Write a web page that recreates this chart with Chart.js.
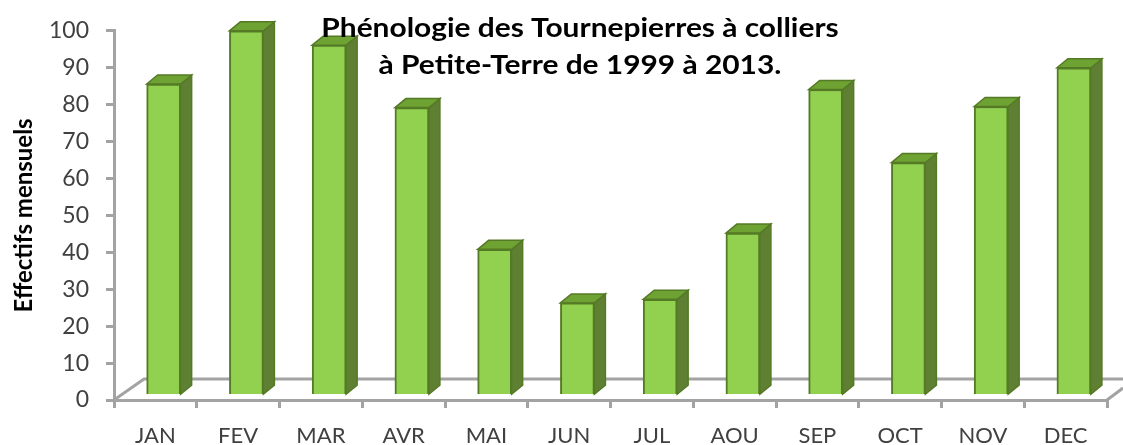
<!DOCTYPE html>
<html lang="fr">
<head>
    <meta charset="UTF-8">
    <title>Phénologie des Tournepierres à colliers</title>
    <script src="https://cdn.jsdelivr.net/npm/chart.js"></script>
    <style>
        html, body { margin: 0; padding: 0; background: #fff; }
        .wrap { width: 1123px; height: 445px; }
    </style>
</head>
<body>
    <div class="wrap"><canvas id="graphCanvas" width="1123" height="445"></canvas></div>
    <script>
        const months = ['JAN', 'FEV', 'MAR', 'AVR', 'MAI', 'JUN', 'JUL', 'AOU', 'SEP', 'OCT', 'NOV', 'DEC'];
        const effectifs = [85.6, 100, 96.1, 79.2, 40.8, 26.3, 27.3, 45.2, 84.1, 64.3, 79.5, 90];
        const titleLines = ['Phénologie des Tournepierres à colliers', 'à Petite-Terre de 1999 à 2013.'];
        const yLabel = 'Effectifs mensuels';

        const axisGrey = '#a3a3a3';
        const depthX = 11, depthY = 9;

        // faces laterales et plancher de la fausse 3D
        const relief = {
            id: 'relief',
            beforeDatasetsDraw(chart) {
                const { ctx, chartArea: a } = chart;
                ctx.save();
                ctx.strokeStyle = axisGrey;
                ctx.lineWidth = 3;
                ctx.beginPath();
                ctx.moveTo(a.left, a.bottom);
                ctx.lineTo(a.left + 30, a.bottom - 21);
                ctx.lineTo(chart.width, a.bottom - 21);
                ctx.moveTo(a.right, a.bottom);
                ctx.lineTo(chart.width, a.bottom - 12);
                ctx.stroke();

                ctx.lineWidth = 1.5;
                ctx.strokeStyle = '#557a25';
                chart.getDatasetMeta(0).data.forEach(bar => {
                    const l = bar.x - bar.width / 2, r = bar.x + bar.width / 2;
                    const t = bar.y, b = bar.base;
                    ctx.fillStyle = '#5f8033';
                    ctx.beginPath();
                    ctx.moveTo(r, t);
                    ctx.lineTo(r + depthX, t - depthY);
                    ctx.lineTo(r + depthX, b - depthY);
                    ctx.lineTo(r, b);
                    ctx.closePath();
                    ctx.fill();
                    ctx.stroke();
                    ctx.fillStyle = '#6ea333';
                    ctx.beginPath();
                    ctx.moveTo(l, t);
                    ctx.lineTo(l + depthX, t - depthY);
                    ctx.lineTo(r + depthX, t - depthY);
                    ctx.lineTo(r, t);
                    ctx.closePath();
                    ctx.fill();
                    ctx.stroke();
                });
                ctx.restore();
            },
            afterDraw(chart) {
                const ctx = chart.ctx;
                ctx.save();
                ctx.fillStyle = '#000';
                ctx.font = 'bold 26px Lato';
                ctx.textAlign = 'center';
                ctx.textBaseline = 'middle';
                // le titre de l'original est etire en largeur
                ctx.translate(580, 0);
                ctx.scale(1.15, 1);
                ctx.fillText(titleLines[0], 0, 29);
                ctx.fillText(titleLines[1], 0, 66);
                ctx.restore();
            }
        };

        new Chart(document.getElementById('graphCanvas').getContext('2d'), {
            type: 'bar',
            data: {
                labels: months,
                datasets: [{
                    data: effectifs.map((v, i) => ({ x: i, y: v })),
                    xAxisID: 'xBars',
                    base: 1.6,
                    barThickness: 34,
                    backgroundColor: '#92d14f',
                    borderColor: '#557a25',
                    borderWidth: 2
                }]
            },
            options: {
                responsive: false,
                animation: false,
                layout: { padding: { top: 30, right: 16 } },
                plugins: {
                    legend: { display: false },
                    title: { display: false },
                    tooltip: { enabled: false }
                },
                scales: {
                    x: {
                        type: 'category',
                        labels: months,
                        offset: true,
                        afterFit(s) { s.height = 45; },
                        border: { color: axisGrey, width: 3 },
                        grid: { offset: true, drawOnChartArea: false, color: axisGrey, lineWidth: 3, tickLength: 8 },
                        ticks: { color: '#404040', font: { family: 'Lato', size: 22 }, padding: 15, maxRotation: 0, autoSkip: false }
                    },
                    // axe cache : decale les barres vers la droite comme dans la vue 3D
                    xBars: {
                        type: 'linear',
                        display: false,
                        offset: false,
                        grid: { offset: false },
                        min: -0.6,
                        max: 11.4
                    },
                    y: {
                        min: 0,
                        max: 100,
                        afterFit(s) { s.width = 114; },
                        border: { color: axisGrey, width: 3 },
                        grid: { drawOnChartArea: false, color: axisGrey, lineWidth: 3, tickLength: 8 },
                        ticks: { stepSize: 10, color: '#404040', font: { family: 'Lato', size: 23 }, padding: 17 },
                        title: { display: true, text: yLabel, color: '#000', font: { family: 'Lato', size: 24, weight: 'bold' }, padding: { top: 10, bottom: 0 } }
                    }
                }
            },
            plugins: [relief]
        });
    </script>
</body>
</html>
